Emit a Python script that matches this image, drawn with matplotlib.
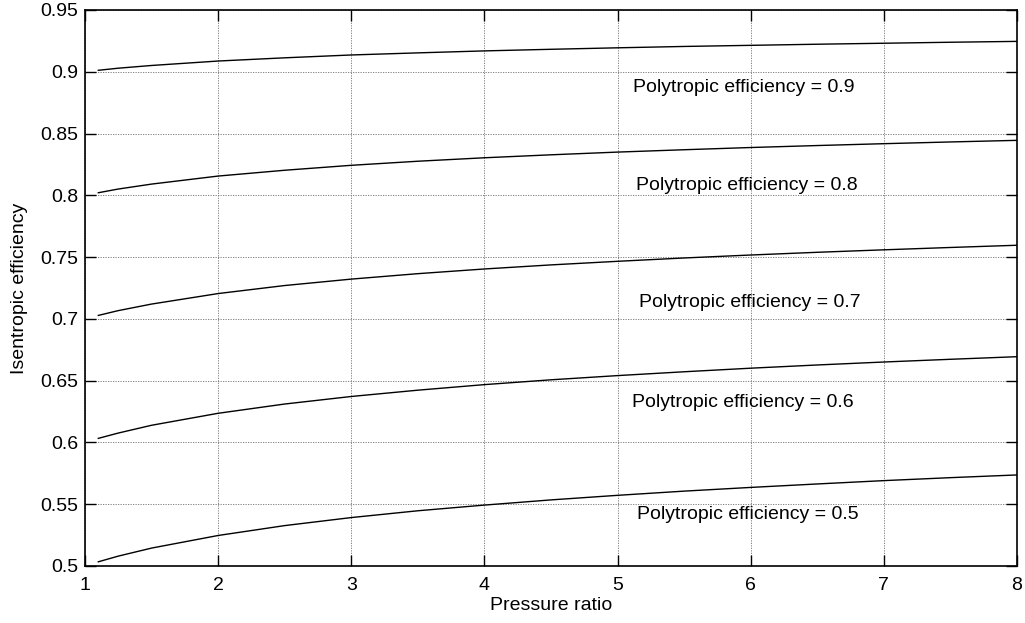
import matplotlib
matplotlib.use("Agg")
import matplotlib.pyplot as plt

plt.rcParams['font.family'] = ['Liberation Sans', 'DejaVu Sans']

pressure_ratio = [1.1, 1.25, 1.5, 2, 2.5, 3, 3.5, 4, 4.5, 5, 5.5, 6, 6.5, 7, 7.5, 8]

eff_09 = [0.9012, 0.9029, 0.9051, 0.9087, 0.9113, 0.9136, 0.9153, 0.9169, 0.9182, 0.9194, 0.9205, 0.9214, 0.9223, 0.9231, 0.9239, 0.9246]
eff_08 = [0.8021, 0.8051, 0.8091, 0.8156, 0.8203, 0.8243, 0.8276, 0.8304, 0.8328, 0.8350, 0.8369, 0.8387, 0.8403, 0.8418, 0.8432, 0.8445]
eff_07 = [0.7028, 0.7067, 0.7120, 0.7205, 0.7270, 0.7322, 0.7366, 0.7404, 0.7437, 0.7466, 0.7493, 0.7517, 0.7539, 0.7559, 0.7578, 0.7596]
eff_06 = [0.6033, 0.6076, 0.6139, 0.6236, 0.6311, 0.6372, 0.6423, 0.6468, 0.6507, 0.6541, 0.6572, 0.6601, 0.6627, 0.6651, 0.6673, 0.6694]
eff_05 = [0.5034, 0.5080, 0.5145, 0.5247, 0.5327, 0.5392, 0.5447, 0.5493, 0.5535, 0.5572, 0.5606, 0.5636, 0.5664, 0.5691, 0.5715, 0.5737]

series = [eff_09, eff_08, eff_07, eff_06, eff_05]
labels = ['Polytropic efficiency = 0.9', 'Polytropic efficiency = 0.8',
          'Polytropic efficiency = 0.7', 'Polytropic efficiency = 0.6',
          'Polytropic efficiency = 0.5']
label_x = [5.116, 5.139, 5.161, 5.108, 5.146]
label_y = [0.887, 0.808, 0.713, 0.632, 0.542]

x_ticks = [1, 2, 3, 4, 5, 6, 7, 8]
y_ticks = [0.5, 0.55, 0.6, 0.65, 0.7, 0.75, 0.8, 0.85, 0.9, 0.95]
y_ticklabels = ['0.5', '0.55', '0.6', '0.65', '0.7', '0.75', '0.8', '0.85', '0.9', '0.95']

fig = plt.figure(figsize=(10.25, 6.23), dpi=100)
ax = fig.add_axes([85/1025, 1 - 566/623, (1017 - 85)/1025, (566 - 10)/623])

for s in series:
    ax.plot(pressure_ratio, s, color='black', linewidth=1.0)

for t, lx, ly in zip(labels, label_x, label_y):
    ax.text(lx, ly, t, fontsize=14, ha='left', va='center', color='black')

ax.set_xlim(1, 8)
ax.set_ylim(0.5, 0.95)
ax.set_xticks(x_ticks)
ax.set_xticklabels([str(v) for v in x_ticks])
ax.set_yticks(y_ticks)
ax.set_yticklabels(y_ticklabels)
ax.grid(True, color='#707070', linestyle=(0, (1.5, 1.5)), linewidth=0.6)
ax.tick_params(direction='in', length=8, width=1.0, top=True, right=True,
               labelsize=14)
ax.tick_params(axis='x', pad=8)
ax.tick_params(axis='y', pad=5)
for sp in ax.spines.values():
    sp.set_linewidth(1.2)
ax.set_xlabel('Pressure ratio', fontsize=14, labelpad=2)
ax.set_ylabel('Isentropic efficiency', fontsize=14, labelpad=9)

fig.savefig('out.png', dpi=100)
